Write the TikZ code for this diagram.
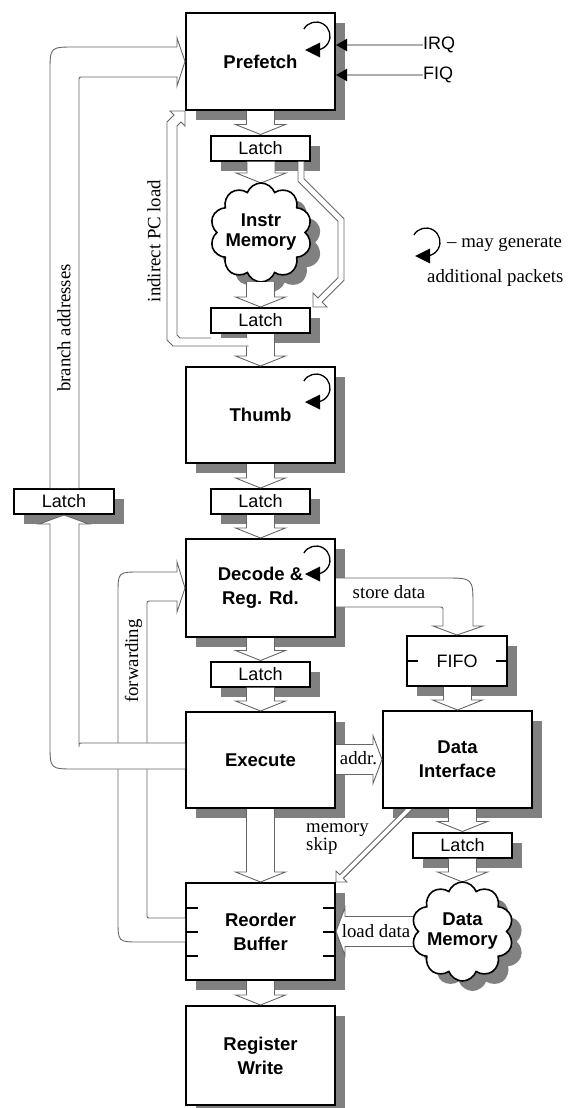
\documentclass[tikz,border=0pt]{standalone}
\usepackage{fontspec}
\setmainfont{Liberation Serif}
\setsansfont{Liberation Sans}
\usetikzlibrary{calc,shapes.symbols,shadows,arrows.meta}
\pgfdeclarelayer{arrowlayer}
\pgfdeclarelayer{cloudlayer}
\pgfdeclarelayer{toplayer}
\pgfsetlayers{main,arrowlayer,cloudlayer,toplayer}
\colorlet{agray}{black!60}
\colorlet{sgray}{black!50}
\colorlet{igray}{black!32}
\tikzset{
  shadowed/.style={drop shadow={shadow xshift=10pt,shadow yshift=-10pt,fill=sgray,opacity=1}},
  stage/.style={draw,line width=2pt,fill=white,minimum width=149pt,minimum height=97pt,inner sep=0pt,outer sep=1pt,shadowed,align=center,font=\sffamily\bfseries\fontsize{18.5}{24}\selectfont},
  latchbox/.style={draw,line width=2pt,fill=white,minimum width=99pt,minimum height=25pt,inner sep=0pt,outer sep=1pt,shadowed,font=\sffamily\fontsize{18}{20}\selectfont},
  memcloud/.style={cloud,cloud puffs=10,cloud puff arc=140,cloud ignores aspect,draw,line width=1.6pt,fill=white,minimum width=102pt,minimum height=99pt,inner sep=0pt,outer sep=0pt,shadowed},
  cloudtext/.style={font=\sffamily\bfseries\fontsize{18.5}{20}\selectfont,align=center,inner sep=0pt},
  fatarrow/.style={fill=white,draw=agray,line width=0.9pt},
  sigline/.style={draw=igray,line width=2.2pt,-{Triangle[length=11pt,width=12pt,black]}},
  loopline/.style={draw=black,line width=1.3pt},
  serifnote/.style={inner sep=0pt,font=\fontsize{18.8}{17}\selectfont},
  sansnote/.style={inner sep=0pt,font=\sffamily\fontsize{18}{20}\selectfont},
}
\newcommand\vfat[2]{\path[fatarrow] ($(#2 |- #1)+(-14,0)$) -- ($(#2)+(-14,-10)$) -- ($(#2)+(-25,-10)$) -- (#2) -- ($(#2)+(25,-10)$) -- ($(#2)+(14,-10)$) -- ($(#2 |- #1)+(14,0)$);}
\newcommand\hfatR[2]{\path[fatarrow] ($(#1 |- #2)+(0,-15)$) -- ($(#2)+(-9,-15)$) -- ($(#2)+(-9,-24)$) -- (#2) -- ($(#2)+(-9,24)$) -- ($(#2)+(-9,15)$) -- ($(#1 |- #2)+(0,15)$);}
\newcommand\hfatL[2]{\path[fatarrow] ($(#1 |- #2)+(0,-15)$) -- ($(#2)+(9,-15)$) -- ($(#2)+(9,-24)$) -- (#2) -- ($(#2)+(9,24)$) -- ($(#2)+(9,15)$) -- ($(#1 |- #2)+(0,15)$);}
\newcommand\pktloop[1]{\begin{scope}[shift={#1},y=1pt]
  \draw[loopline] (150:14) arc[start angle=150,end angle=-78,radius=14];
  \fill (4,-6.5) -- (4,-21.5) -- (-11,-14) -- cycle;
\end{scope}}
\begin{document}
\begin{tikzpicture}[x=1pt,y=-1pt]
\path[use as bounding box,fill=white] (0,0) rectangle (568,1108);

% pipeline stages
\node[stage] (pre) at (260.5,61.5) {Prefetch};
\node[stage,minimum height=96pt] (thumb) at (260.5,415) {Thumb};
\node[stage,minimum height=98pt] (dec) at (260.5,588) {Decode \&\\Reg. Rd.};
\node[stage,minimum height=96pt] (ex) at (260.5,760) {Execute};
\node[stage] (rob) at (260.5,931.5) {Reorder\\Buffer};
\node[stage,minimum height=99pt] (rw) at (260.5,1055.5) {Register\\Write};
\node[stage] (di) at (457.5,759.5) {Data\\Interface};
\node[latchbox,minimum width=100pt,minimum height=50pt] (fifo) at (457,661) {FIFO};

% latches
\node[latchbox] (l1) at (260.5,148) {Latch};
\node[latchbox] (l2) at (260.5,320.5) {Latch};
\node[latchbox] (l3) at (260.5,501.5) {Latch};
\node[latchbox] (l4) at (260.5,674) {Latch};
\node[latchbox,minimum width=100pt] (lb) at (64,501.5) {Latch};
\node[latchbox] (ld) at (462.5,845) {Latch};

% ticks
\foreach \d in {-24,0,24}{
  \draw[line width=2pt] ($(rob.west)+(1,\d)$) -- ++(12,0);
  \draw[line width=2pt] ($(rob.east)+(-1,\d)$) -- ++(-12,0);
}
\draw[line width=2pt] ($(fifo.west)+(1,0)$) -- ++(11,0);
\draw[line width=2pt] ($(fifo.east)+(-1,0)$) -- ++(-11,0);

% interrupts
\node[sansnote,anchor=west] (irq) at (423,45) {IRQ};
\node[sansnote,anchor=west] (fiq) at (423,75) {FIQ};

% clouds
\begin{pgfonlayer}{cloudlayer}
\node[memcloud,label={[cloudtext]center:Instr\\Memory}] (im) at (261,232.5) {};
\node[memcloud,label={[cloudtext]center:Data\\Memory}] (dm) at (462.5,931.5) {};
\end{pgfonlayer}
\coordinate (dmin) at ($(dm.west)+(7,0)$);
\coordinate (bpT) at ($(l2.north east)+(2,0)$);

\begin{pgfonlayer}{arrowlayer}
\vfat{pre.south}{l1.north}
\vfat{l1.south}{im.north}
\vfat{l2.south}{thumb.north}
\vfat{thumb.south}{l3.north}
\vfat{l3.south}{dec.north}
\vfat{dec.south}{l4.north}
\vfat{l4.south}{ex.north}
\vfat{ex.south}{rob.north}
\vfat{rob.south}{rw.north}
\vfat{fifo.south}{di.north}
\vfat{di.south}{ld.north}
\vfat{ld.south}{dm.north}
\hfatR{ex.east}{di.west}
\hfatL{dmin}{rob.east}
% forwarding
\path[fatarrow] ($(rob.west)+(0,10.5)$) -- (140,942) .. controls (118,942) .. (118,920) -- (118,594) .. controls (118,572) .. (140,572) -- (177,572) -- (177,562) -- (dec.west) -- (177,612) -- (177,601) -- (151,601) .. controls (147,601) .. (147,605) -- (147,914) .. controls (147,918) .. (151,918) -- ($(rob.west)+(0,-13.5)$);
% branch addresses
\path[fatarrow] ($(ex.west)+(0,9)$) -- (75,769) .. controls (50,769) .. (50,744) -- (50,524) -- (39,524) -- (lb.south) -- (89,524) -- (79,524) -- (79,747) .. controls (79,743) .. (83,743) -- ($(ex.west)+(0,-17)$);
\path[fatarrow] ($(lb.north)+(15,0)$) -- (79,81) .. controls (79,77) .. (83,77) -- (177,77) -- (177,86) -- (pre.west) -- (177,38) -- (177,47) -- (75,47) .. controls (50,47) .. (50,72) -- ($(lb.north)+(-14,0)$);
% store data
\path[fatarrow] ($(dec.east)+(0,-10)$) -- (445,578) .. controls (473,578) .. (473,606) -- (473,626) -- (483,626) -- (fifo.north) -- (433,626) -- (443,626) -- (443,611) .. controls (443,607) .. (439,607) -- ($(dec.east)+(0,19)$);
% memory skip
\path[fatarrow] ($(rob.north east)+(76.6,-73)$) -- ($(rob.north east)+(7.3,-3.7)$) -- ($(rob.north east)+(11,0)$) -- (rob.north east) -- ($(rob.north east)+(0,-11)$) -- ($(rob.north east)+(3.7,-7.3)$) -- ($(rob.north east)+(69.4,-73)$);
% indirect PC load
\fill[white] ($(l2.south)+(-12,12)$) -- (173,346) -- (167,340) -- ($(pre.south west)+(-18,10.9)$) -- ($(pre.south west)+(-11,4)$) -- ($(pre.south west)+(-15,0)$) -- (pre.south west) -- ($(pre.south west)+(0,15)$) -- ($(pre.south west)+(-4,11)$) -- ($(pre.south west)+(-8,15.1)$) -- (177,335) -- (180,338) -- ($(l2.south west)+(1,4)$) -- ($(l2.south)+(-12,4)$) -- cycle;
\draw[agray,line width=0.9pt] ($(l2.south)+(-12,12)$) -- (173,346) -- (167,340) -- ($(pre.south west)+(-18,10.9)$) -- ($(pre.south west)+(-11,4)$) -- ($(pre.south west)+(-15,0)$) -- (pre.south west) -- ($(pre.south west)+(0,15)$) -- ($(pre.south west)+(-4,11)$) -- ($(pre.south west)+(-8,15.1)$) -- (177,335) -- (180,338) -- ($(l2.south west)+(1,4)$);
% IRQ / FIQ
\draw[sigline] (irq.west) -- (pre.east |- irq.west);
\draw[sigline] (fiq.west) -- (pre.east |- fiq.west);
\end{pgfonlayer}

\begin{pgfonlayer}{toplayer}
\vfat{im.south}{l2.north}
% bypass around instruction memory
\path[fatarrow] ($(l1.south east)+(-13,0)$) -- ($(bpT)+(-15,-125.8)$) -- ($(bpT)+(25,-85.8)$) -- ($(bpT)+(25,-29.2)$) -- ($(bpT)+(4.9,-9.1)$) -- ($(bpT)+(0,-14)$) -- (bpT) -- ($(bpT)+(14,0)$) -- ($(bpT)+(9.1,-4.9)$) -- ($(bpT)+(31,-26.8)$) -- ($(bpT)+(31,-88.2)$) -- ($(bpT)+(-9,-128.2)$) -- ($(l1.south east)+(-7,0)$);
% labels
\node[serifnote,rotate=90] (tba) at (64,328) {branch addresses};
\node[serifnote,rotate=90] (tipc) at (154,241) {indirect PC load};
\node[serifnote,rotate=90] (tfw) at (133.5,661) {forwarding};
\node[serifnote] (tsd) at (389,592.5) {store data};
\node[serifnote] (tad) at (358.5,758.5) {addr.};
\node[serifnote] (tld) at (376,931) {load data};
\node[serifnote,align=left,anchor=west] (tms) at (306,839) {memory\\skip};
% loops
\pktloop{($(pre.north east)+(-20,24)$)}
\pktloop{($(thumb.north east)+(-20,22)$)}
\pktloop{($(dec.north east)+(-20,22)$)}
\coordinate (legc) at (426,242);
\pktloop{(legc)}
\node[serifnote,anchor=base west] (leg1) at (447,247) {– may generate};
\node[serifnote,anchor=base west] (leg2) at (427,282) {additional packets};
\end{pgfonlayer}
\end{tikzpicture}
\end{document}
